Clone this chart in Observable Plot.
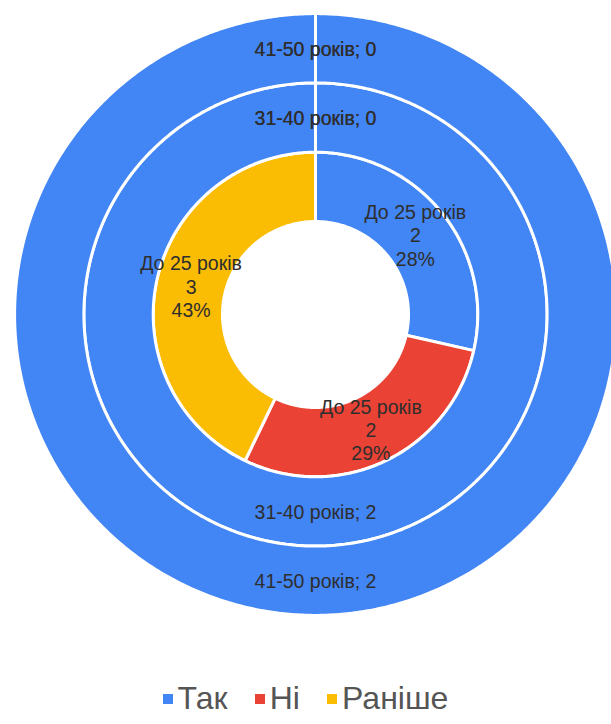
<!DOCTYPE html>
<html><head><meta charset="utf-8">
<script src="https://cdn.jsdelivr.net/npm/d3@7"></script>
<script src="https://cdn.jsdelivr.net/npm/@observablehq/plot@0.6"></script>
<style>
body{margin:0;background:#fff;}
#chart{width:611px;}
.lg-swatches{font-family:"Liberation Sans",Arial,sans-serif !important;font-size:32px !important;color:#555 !important;display:flex !important;justify-content:center !important;margin:0 !important;padding-top:20px;}
.lg-swatch{margin-right:0.85em !important;}
.lg-swatch:last-child{margin-right:0 !important;}
.lg-swatch > svg{margin-right:5px !important;}
</style></head><body><div id="chart"></div><script>
// Categories (legend) and colours
const categories = ["Так", "Ні", "Раніше"];
const colors = ["#4285F4", "#EA4335", "#FBBC04"];
// Rings from inner to outer
const rings = ["До 25 років", "31-40 років", "41-50 років"];
const valuesUnder25 = [2, 2, 3];
const values31to40 = [2, 0, 0];
const values41to50 = [2, 0, 0];
const pctUnder25 = ["28%", "29%", "43%"];

const ringValues = [valuesUnder25, values31to40, values41to50];

const W = 611, H = 660, cx = 315, cy = 314;
const hole = 93, ringW = 69.3;

const polys = [];
const labels = [];
ringValues.forEach((vals, ri) => {
  const total = d3.sum(vals);
  const r0 = hole + ri * ringW, r1 = r0 + ringW, rm = (r0 + r1) / 2;
  let acc = 0;
  vals.forEach((v, ci) => {
    const a0 = acc / total * 2 * Math.PI;
    acc += v;
    const a1 = acc / total * 2 * Math.PI;
    const n = Math.max(2, Math.ceil((a1 - a0) / (Math.PI / 360)));
    const id = ri + "-" + ci;
    const pts = [];
    for (let k = 0; k <= n; k++) {
      const a = a0 + (a1 - a0) * k / n;
      pts.push({id, cat: categories[ci], x: r1 * Math.sin(a), y: r1 * Math.cos(a)});
    }
    for (let k = n; k >= 0; k--) {
      const a = a0 + (a1 - a0) * k / n;
      pts.push({id, cat: categories[ci], x: r0 * Math.sin(a), y: r0 * Math.cos(a)});
    }
    pts.push({...pts[0]});
    polys.push(...pts);
    const am = (a0 + a1) / 2;
    const text = ri === 0
      ? `${rings[ri]}\n${v}\n${pctUnder25[ci]}`
      : `${rings[ri]}; ${v}`;
    labels.push({x: rm * Math.sin(am), y: rm * Math.cos(am), text});
  });
});

const chart = Plot.plot({
  width: W, height: H, margin: 0,
  x: {domain: [-cx, W - cx], axis: null},
  y: {domain: [-(H - cy), cy], axis: null},
  color: {domain: categories, range: colors},
  style: {fontFamily: "'Liberation Sans', Arial, sans-serif", background: "white"},
  marks: [
    Plot.line(polys, {x: "x", y: "y", z: "id", fill: "cat", stroke: "white", strokeWidth: 3}),
    Plot.text(labels, {x: "x", y: "y", text: "text", fontSize: 19.5, lineHeight: 1.2, fill: "#2e2e2e"})
  ]
});
document.getElementById("chart").append(chart);
const legend = Plot.legend({color: {domain: categories, range: colors}, legend: "swatches", swatchSize: 10, className: "lg"});
document.getElementById("chart").append(legend);
</script></body></html>
